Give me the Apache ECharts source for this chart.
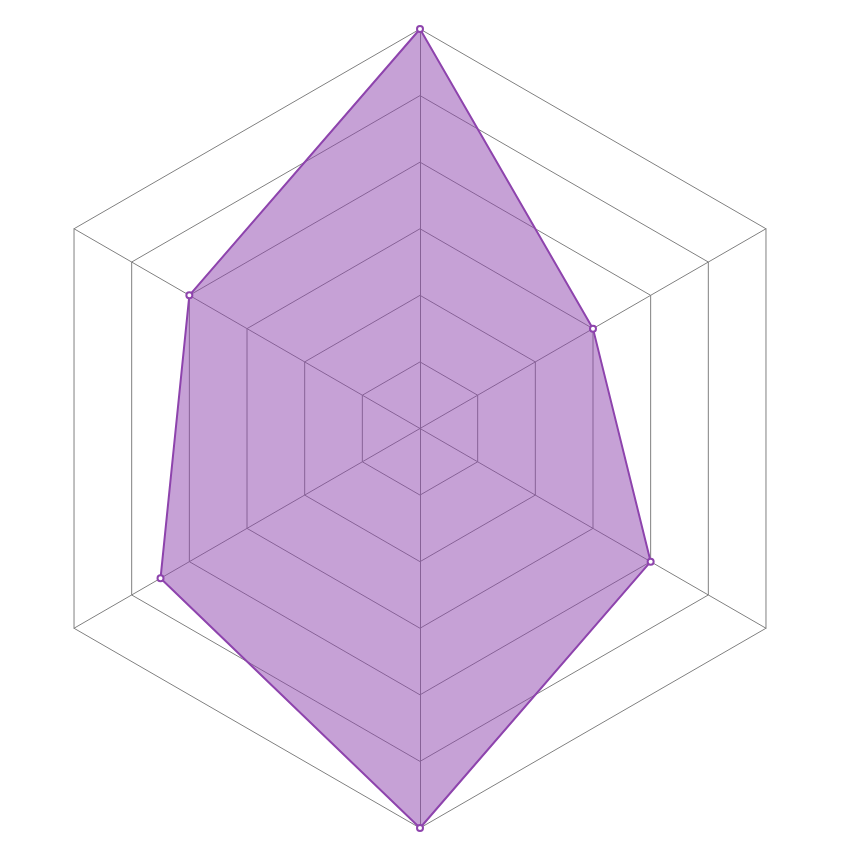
<!DOCTYPE html>
<html>
<head>
<meta charset="utf-8">
<script src="https://cdn.jsdelivr.net/npm/echarts@6/dist/echarts.min.js"></script>
<style>html,body{margin:0;padding:0;background:#fff}#c{width:860px;height:860px}</style>
</head>
<body>
<div id="c"></div>
<script>
// Indicators in ECharts order (top, then counter-clockwise)
const indicatorNames = ['A', 'B', 'C', 'D', 'E', 'F'];
const indicatorMax = 6;
const seriesValues = [6, 4, 4.5, 6, 4, 3];

const chart = echarts.init(document.getElementById('c'), null, {renderer: 'canvas'});
chart.setOption({
  animation: false,
  radar: {
    center: [420, 428.5],
    radius: 399.5,
    splitNumber: 6,
    shape: 'polygon',
    indicator: indicatorNames.map(n => ({name: n, max: indicatorMax, min: 0})),
    axisName: {show: false},
    axisLine: {lineStyle: {color: '#808080', width: 1}},
    splitLine: {lineStyle: {color: '#808080', width: 1}},
    splitArea: {show: false}
  },
  series: [{
    type: 'radar',
    symbol: 'emptyCircle',
    symbolSize: 6,
    itemStyle: {color: '#8e44ad', borderWidth: 1.5},
    lineStyle: {color: '#8e44ad', width: 2},
    areaStyle: {color: '#8e44ad', opacity: 0.5},
    data: [{value: seriesValues}]
  }]
});
</script>
</body>
</html>
